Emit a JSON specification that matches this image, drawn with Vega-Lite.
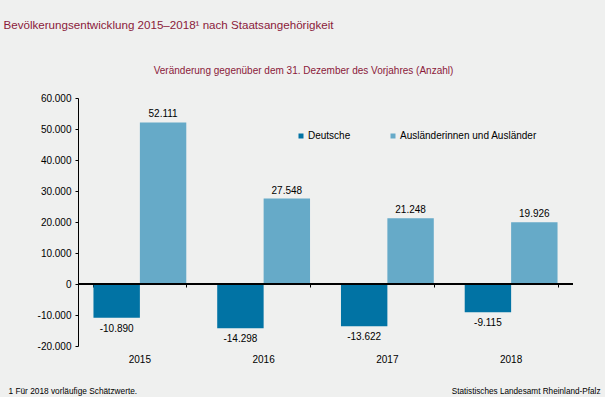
{
  "$schema": "https://vega.github.io/schema/vega-lite/v6.json",
  "autosize": "none",
  "width": 495,
  "height": 248,
  "padding": {"left": 78, "top": 98, "right": 32, "bottom": 51},
  "background": "#eff0ef",
  "data": {
    "values": [
      {"jahr": "2015", "gruppe": "Deutsche", "wert": -10890},
      {"jahr": "2015", "gruppe": "Ausländerinnen und Ausländer", "wert": 52111},
      {"jahr": "2016", "gruppe": "Deutsche", "wert": -14298},
      {"jahr": "2016", "gruppe": "Ausländerinnen und Ausländer", "wert": 27548},
      {"jahr": "2017", "gruppe": "Deutsche", "wert": -13622},
      {"jahr": "2017", "gruppe": "Ausländerinnen und Ausländer", "wert": 21248},
      {"jahr": "2018", "gruppe": "Deutsche", "wert": -9115},
      {"jahr": "2018", "gruppe": "Ausländerinnen und Ausländer", "wert": 19926}
    ]
  },
  "resolve": {"axis": {"x": "independent", "y": "independent"}},
  "layer": [
    {
      "mark": {"type": "bar"},
      "encoding": {
        "x": {
          "field": "jahr", "type": "nominal",
          "scale": {"paddingInner": 0.25, "paddingOuter": 0.125},
          "axis": {
            "orient": "bottom", "domain": false, "ticks": false, "tickSize": 0,
            "labelAngle": 0, "labelFontSize": 10, "labelColor": "#000", "labelPadding": 8,
            "title": "1 Für 2018 vorläufige  Schätzwerte.",
            "titleFontSize": 8.3, "titleFontWeight": "normal", "titleColor": "#000",
            "titleAlign": "left", "titleBaseline": "alphabetic", "titleX": -70, "titleY": 47
          }
        },
        "xOffset": {
          "field": "gruppe", "type": "nominal",
          "scale": {"domain": ["Deutsche", "Ausländerinnen und Ausländer"], "paddingInner": 0, "paddingOuter": 0}
        },
        "y": {
          "field": "wert", "type": "quantitative",
          "scale": {"domain": [-20000, 60000], "nice": false},
          "axis": {
            "orient": "left", "values": [-20000, -10000, 0, 10000, 20000, 30000, 40000, 50000, 60000],
            "format": ",d", "grid": false, "domainColor": "#000", "tickColor": "#000", "tickSize": 3,
            "labelPadding": 4, "labelFontSize": 10, "labelColor": "#000",
            "title": "Bevölkerungsentwicklung 2015–2018¹ nach Staatsangehörigkeit",
            "titleAngle": 0, "titleAlign": "left", "titleBaseline": "alphabetic",
            "titleX": -75, "titleY": -70, "titleFontSize": 11.6, "titleFontWeight": "normal", "titleColor": "#8b1a3a"
          }
        },
        "color": {
          "field": "gruppe", "type": "nominal",
          "scale": {"domain": ["Deutsche", "Ausländerinnen und Ausländer"], "range": ["#0173a4", "#66aac8"]},
          "legend": {
            "orient": "none", "legendX": 218, "legendY": 33, "direction": "horizontal", "title": null,
            "symbolType": "square", "symbolSize": 25, "symbolStrokeWidth": 0, "labelOffset": 2,
            "labelFontSize": 10, "labelColor": "#000", "columnPadding": 37, "padding": 0
          }
        }
      }
    },
    {
      "transform": [{"filter": "datum.wert >= 0"}],
      "mark": {"type": "text", "baseline": "alphabetic", "dy": -5, "fontSize": 10, "color": "#000"},
      "encoding": {
        "x": {
          "field": "jahr", "type": "nominal",
          "axis": {
            "orient": "top", "domain": false, "ticks": false, "labels": false,
            "title": "Veränderung  gegenüber  dem 31. Dezember des Vorjahres (Anzahl)",
            "titleFontSize": 10, "titleFontWeight": "normal", "titleColor": "#8b1a3a",
            "titleAlign": "center", "titleBaseline": "alphabetic", "titleX": 225, "titleY": -25
          }
        },
        "xOffset": {"field": "gruppe", "type": "nominal"},
        "y": {
          "field": "wert", "type": "quantitative",
          "axis": {
            "orient": "right", "domain": false, "ticks": false, "labels": false, "grid": false,
            "title": "Statistisches Landesamt Rheinland-Pfalz",
            "titleAngle": 0, "titleAlign": "right", "titleBaseline": "alphabetic",
            "titleX": 27, "titleY": 295, "titleFontSize": 8.2, "titleFontWeight": "normal", "titleColor": "#000"
          }
        },
        "text": {"field": "wert", "type": "quantitative", "format": ",d"}
      }
    },
    {
      "transform": [{"filter": "datum.wert < 0"}],
      "mark": {"type": "text", "baseline": "top", "dy": 6, "fontSize": 10, "color": "#000"},
      "encoding": {
        "x": {
          "field": "jahr", "type": "nominal",
          "axis": {
            "orient": "bottom", "offset": -62, "domain": false, "ticks": true, "tickBand": "extent",
            "tickColor": "#000", "tickSize": 3, "labels": false, "title": null
          }
        },
        "xOffset": {"field": "gruppe", "type": "nominal"},
        "y": {"field": "wert", "type": "quantitative", "axis": null},
        "text": {"field": "wert", "type": "quantitative", "format": ",d"}
      }
    },
    {
      "mark": {"type": "rule", "color": "#000", "strokeWidth": 1},
      "encoding": {"y": {"datum": 0, "type": "quantitative", "axis": null}}
    }
  ],
  "config": {
    "font": "Liberation Sans",
    "view": {"stroke": null},
    "locale": {"number": {"decimal": ",", "thousands": ".", "grouping": [3], "currency": ["", " €"], "minus": "-"}}
  }
}
